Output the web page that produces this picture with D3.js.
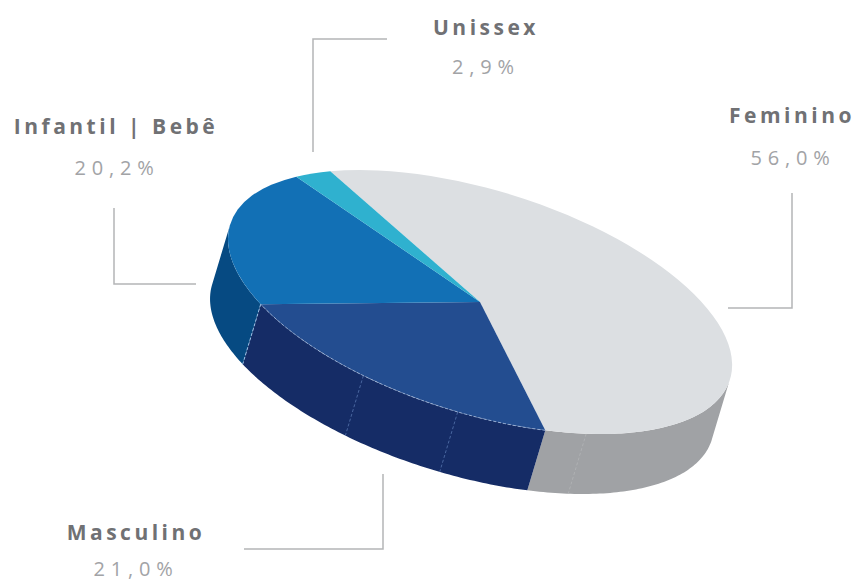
<!DOCTYPE html>
<html>
<head>
<meta charset="utf-8">
<script src="https://cdn.jsdelivr.net/npm/d3@7"></script>
<style>
  html, body { margin: 0; padding: 0; background: #fff; }
  svg { display: block; }
  text { font-family: "Open Sans", "Noto Sans", sans-serif; text-anchor: middle; }
  .name { font-weight: 700; font-size: 21px; letter-spacing: 3.5px; fill: #707174; }
  .value { font-weight: 400; font-size: 20px; letter-spacing: 5.8px; fill: #a2a3a6; }
</style>
</head>
<body>
<svg id="chart" width="858" height="583"></svg>
<script>
// Segment shares, in pie order, clockwise from the Feminino edge
const categories = ["Feminino", "Masculino", "Infantil | Bebê", "Unissex"];
const shares = [56.0, 21.0, 20.2, 2.9];

// Face colours for each segment
const topColors = ["#dcdfe2", "#234d90", "#1270b5", "#2fb1cf"];
const sideColors = ["#a0a2a5", "#152c66", "#064a82", "#2fb1cf"];

// Extra panel seams on the wall, as ellipse angles in degrees
const wallSeams = [57.5, 87.5, 110];

// Disc geometry: tilted ellipse plus an extrusion vector
const disc = { cx: 480, cy: 302, rx: 261.6, ry: 111.7, tilt: 17.3, start: 226, dx: -18, dy: 60 };

// Callout placement, in the same order as the categories
const callouts = [
  { nameAt: [792, 123], valueAt: [793, 165], leader: [[792, 193], [792, 308], [728, 308]] },
  { nameAt: [136, 540], valueAt: [136, 576], leader: [[383, 474], [383, 549], [244, 549]] },
  { nameAt: [116, 134], valueAt: [117, 175], leader: [[114, 208], [114, 284], [196, 284]] },
  { nameAt: [486, 35], valueAt: [486, 74], leader: [[387, 39], [313, 39], [313, 152]] }
];

const svg = d3.select("#chart");
const phi = disc.tilt * Math.PI / 180;
const ax = disc.rx * Math.cos(phi), bx = -disc.ry * Math.sin(phi);
const ay = disc.rx * Math.sin(phi), by = disc.ry * Math.cos(phi);

// Position on the rim for a d3.pie angle (0 = unit circle's top, clockwise)
const rim = a => {
  const t = a - Math.PI / 2;
  return [disc.cx + ax * Math.cos(t) + bx * Math.sin(t),
          disc.cy + ay * Math.cos(t) + by * Math.sin(t)];
};
const lowered = p => [p[0] + disc.dx, p[1] + disc.dy];
const sample = (a0, a1) => {
  const n = Math.max(2, Math.ceil((a1 - a0) * 60));
  return d3.range(n + 1).map(i => a0 + (a1 - a0) * i / n);
};

const startAngle = (disc.start + 90) * Math.PI / 180;
const arcs = d3.pie().sort(null).value(d => d).startAngle(startAngle).endAngle(startAngle + 2 * Math.PI)(shares);
const line = d3.line();

// Wall of a segment: only the rim steps facing the viewer, each as its own quad
const wallPath = d => {
  const pts = sample(d.startAngle, d.endAngle).map(rim);
  return d3.pairs(pts)
    .filter(([p, q]) => (q[0] - p[0]) * disc.dy - (q[1] - p[1]) * disc.dx < 0)
    .map(([p, q]) => line([p, q, lowered(q), lowered(p)]) + "Z")
    .join("");
};
svg.append("g").selectAll("path").data(arcs).join("path")
  .attr("d", wallPath)
  .attr("fill", (d, i) => sideColors[i]);

// Dashed seams down the front wall
const seamAngles = wallSeams.map(d => (d + 90) * Math.PI / 180 + 2 * Math.PI);
const seamColor = a => a < arcs[0].endAngle ? "#b6b8ba" : "#5f7fb8";
svg.append("g").selectAll("line").data(seamAngles).join("line")
  .attr("x1", d => rim(d)[0]).attr("y1", d => rim(d)[1])
  .attr("x2", d => lowered(rim(d))[0]).attr("y2", d => lowered(rim(d))[1])
  .attr("stroke", seamColor)
  .attr("stroke-width", 1)
  .attr("stroke-dasharray", "3 2")
  .attr("opacity", 0.7);

// Seam between the Masculino and Infantil walls
svg.append("line")
  .attr("x1", rim(arcs[1].endAngle)[0]).attr("y1", rim(arcs[1].endAngle)[1])
  .attr("x2", lowered(rim(arcs[1].endAngle))[0]).attr("y2", lowered(rim(arcs[1].endAngle))[1])
  .attr("stroke", "#9cc0e6").attr("stroke-width", 1).attr("stroke-dasharray", "3 2");

// Top faces: a plain d3.arc on a unit disc, sheared into the tilted ellipse
const arcGen = d3.arc().innerRadius(0).outerRadius(1);
svg.append("g")
  .attr("transform", `matrix(${ax},${ay},${bx},${by},${disc.cx},${disc.cy})`)
  .selectAll("path").data(arcs).join("path")
  .attr("d", arcGen)
  .attr("fill", (d, i) => topColors[i]);

// Pale dashed highlight along the Masculino rim
svg.append("path")
  .attr("d", line(sample(arcs[1].startAngle, arcs[1].endAngle).map(rim)))
  .attr("fill", "none")
  .attr("stroke", "#a9bfe0")
  .attr("stroke-width", 1)
  .attr("stroke-dasharray", "3 2")
  .attr("opacity", 0.75);

// Leader lines
svg.append("g").selectAll("path").data(callouts).join("path")
  .attr("d", d => line(d.leader))
  .attr("fill", "none")
  .attr("stroke", "#b4b5b7")
  .attr("stroke-width", 1.5);

// Category names and their percentages
const fmt = v => v.toFixed(1).replace(".", ",") + "%";
const labels = svg.append("g").selectAll("g").data(categories).join("g");
labels.append("text").attr("class", "name")
  .attr("x", (d, i) => callouts[i].nameAt[0]).attr("y", (d, i) => callouts[i].nameAt[1])
  .text(d => d);
labels.append("text").attr("class", "value")
  .attr("x", (d, i) => callouts[i].valueAt[0]).attr("y", (d, i) => callouts[i].valueAt[1])
  .text((d, i) => fmt(shares[i]));
</script>
</body>
</html>
